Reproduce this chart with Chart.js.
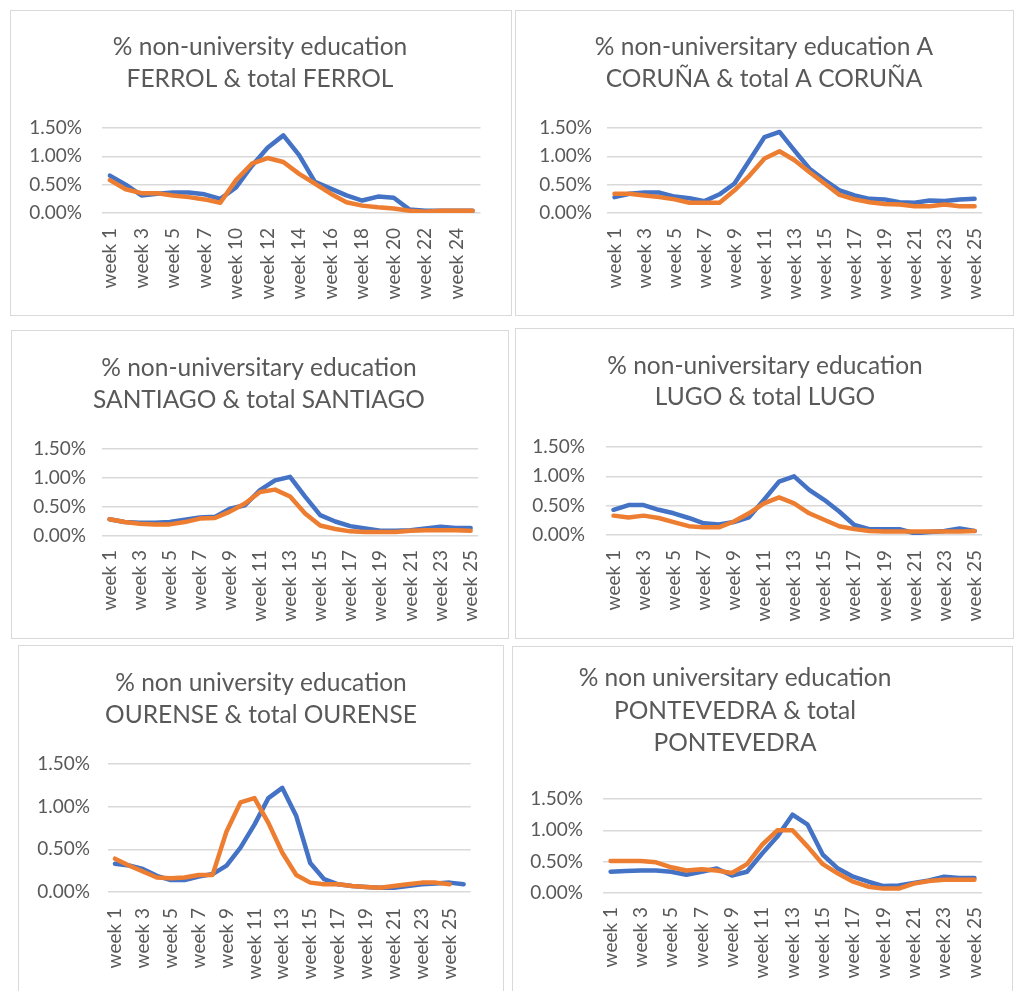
<!DOCTYPE html>
<html><head><meta charset="utf-8">
<script src="https://cdn.jsdelivr.net/npm/chart.js@4"></script>
<style>
html,body{margin:0;padding:0;background:#fff;width:1014px;height:991px;overflow:hidden;position:relative}
.box{position:absolute;border:1px solid #d9d9d9;box-sizing:border-box;background:#fff}
canvas{position:absolute}
</style></head><body>
<script>
// ---------- DATA ----------
const weeksFerrol = ["week 1","week 2","week 3","week 4","week 5","week 6","week 7","week 8","week 10","week 11","week 12","week 13","week 14","week 15","week 16","week 17","week 18","week 19","week 20","week 21","week 22","week 23","week 24","week 25"];
const weeks25 = ["week 1","week 2","week 3","week 4","week 5","week 6","week 7","week 8","week 9","week 10","week 11","week 12","week 13","week 14","week 15","week 16","week 17","week 18","week 19","week 20","week 21","week 22","week 23","week 24","week 25"];
const weeks26 = ["week 1","week 2","week 3","week 4","week 5","week 6","week 7","week 8","week 9","week 10","week 11","week 12","week 13","week 14","week 15","week 16","week 17","week 18","week 19","week 20","week 21","week 22","week 23","week 24","week 25","week 26"];
const yTicks = [0, 0.5, 1.0, 1.5];

const ferrolNonUni = [0.66,0.50,0.31,0.34,0.36,0.36,0.33,0.25,0.45,0.83,1.15,1.37,1.02,0.55,0.43,0.31,0.22,0.29,0.27,0.06,0.04,0.04,0.04,0.04];
const ferrolTotal  = [0.58,0.42,0.35,0.35,0.31,0.28,0.24,0.18,0.58,0.87,0.97,0.90,0.69,0.52,0.34,0.19,0.13,0.10,0.08,0.04,0.02,0.04,0.04,0.04];

const corunaNonUni = [0.28,0.34,0.36,0.36,0.29,0.26,0.21,0.33,0.52,0.93,1.34,1.43,1.10,0.78,0.58,0.40,0.31,0.25,0.24,0.19,0.18,0.22,0.21,0.24,0.25];
const corunaTotal  = [0.34,0.34,0.31,0.28,0.24,0.18,0.18,0.18,0.40,0.66,0.96,1.09,0.93,0.72,0.52,0.32,0.24,0.19,0.16,0.15,0.12,0.12,0.15,0.12,0.12];

const santiagoNonUni = [0.29,0.24,0.23,0.23,0.24,0.28,0.32,0.33,0.47,0.53,0.79,0.96,1.02,0.68,0.36,0.25,0.17,0.13,0.09,0.09,0.10,0.13,0.16,0.14,0.14];
const santiagoTotal  = [0.29,0.24,0.21,0.20,0.20,0.24,0.30,0.31,0.42,0.56,0.76,0.80,0.68,0.39,0.18,0.12,0.08,0.07,0.07,0.07,0.09,0.10,0.10,0.10,0.09];

const lugoNonUni = [0.43,0.51,0.51,0.43,0.37,0.29,0.20,0.18,0.22,0.30,0.60,0.91,1.00,0.77,0.60,0.40,0.17,0.10,0.10,0.10,0.03,0.05,0.07,0.11,0.07];
const lugoTotal  = [0.33,0.30,0.33,0.29,0.22,0.15,0.13,0.13,0.23,0.37,0.54,0.64,0.54,0.37,0.26,0.15,0.10,0.07,0.06,0.06,0.06,0.06,0.06,0.06,0.07];

const ourenseNonUni = [0.33,0.31,0.27,0.19,0.14,0.14,0.18,0.21,0.31,0.52,0.79,1.10,1.22,0.89,0.34,0.15,0.09,0.07,0.06,0.05,0.05,0.07,0.09,0.10,0.11,0.09];
const ourenseTotal  = [0.39,0.31,0.24,0.17,0.16,0.17,0.20,0.20,0.71,1.05,1.10,0.81,0.46,0.20,0.11,0.09,0.09,0.07,0.06,0.05,0.07,0.09,0.11,0.11,0.09,null];

const pontevedraNonUni = [0.34,0.35,0.36,0.36,0.34,0.29,0.34,0.39,0.28,0.34,0.63,0.90,1.25,1.09,0.61,0.39,0.26,0.18,0.11,0.12,0.16,0.20,0.26,0.24,0.24];
const pontevedraTotal  = [0.51,0.51,0.51,0.49,0.41,0.36,0.38,0.36,0.32,0.46,0.77,1.00,1.00,0.74,0.46,0.31,0.18,0.10,0.07,0.07,0.15,0.19,0.21,0.21,0.21];

// ---------- PANELS (layout) ----------
const panels = [
  {box:[10,10,502,306], cv:[10,10,501,305], title:["% non-university education","FERROL & total FERROL"], labels:weeksFerrol, a:ferrolNonUni, b:ferrolTotal,
   padL:28,padR:29,yW:64,yPad:20,xH:102,xPad:15,lh:32,tTop:21,tBot:33},
  {box:[515,10,499,306], cv:[515,10,498,305], title:["% non-universitary education A","CORUÑA & total A CORUÑA"], labels:weeks25, a:corunaNonUni, b:corunaTotal,
   padL:30,padR:30,yW:62,yPad:15,xH:102,xPad:15,lh:32,tTop:21,tBot:33},
  {box:[11,330,498,309], cv:[11,330,497,308], title:["% non-universitary education","SANTIAGO & total SANTIAGO"], labels:weeks25, a:santiagoNonUni, b:santiagoTotal,
   padL:27,padR:28,yW:64,yPad:16,xH:102,xPad:14,lh:32,tTop:22,tBot:33},
  {box:[515,328,499,311], cv:[515,328,498,310], title:["% non-universitary education","LUGO & total LUGO"], labels:weeks25, a:lugoNonUni, b:lugoTotal,
   padL:29,padR:27,yW:62,yPad:21,xH:103,xPad:15,lh:31,tTop:23,tBot:34},
  {box:[18,645,486,360], cv:[18,645,485,346], title:["% non university education","OURENSE & total OURENSE"], labels:weeks26, a:ourenseNonUni, b:ourenseTotal,
   padL:31,padR:30,yW:59,yPad:18,xH:99,xPad:16,lh:32,tTop:22,tBot:33},
  {box:[512,646,501,360], cv:[480,646,532,345], title:["% non universitary education","PONTEVEDRA & total","PONTEVEDRA"], labels:weeks25, a:pontevedraNonUni, b:pontevedraTotal,
   padL:8,padR:30,yW:115,yPad:20,xH:98,xPad:14,lh:32.5,tTop:16,tBot:39.5}
];

const FONT = 'Lato';
const TITLE_SIZE = 24.5, TICK_SIZE = 19;
const GRAY = '#595959';

panels.forEach(p => {
  const d = document.createElement('div');
  d.className = 'box';
  d.style.left = p.box[0]+'px'; d.style.top = p.box[1]+'px';
  d.style.width = p.box[2]+'px'; d.style.height = p.box[3]+'px';
  document.body.appendChild(d);
});
panels.forEach(p => {
  const c = document.createElement('canvas');
  c.width = p.cv[2]; c.height = p.cv[3];
  c.style.left = p.cv[0]+'px'; c.style.top = p.cv[1]+'px';
  c.style.width = p.cv[2]+'px'; c.style.height = p.cv[3]+'px';
  document.body.appendChild(c);
  const line = {pointRadius:0, borderWidth:4.5, tension:0, fill:false, borderCapStyle:'round', borderJoinStyle:'round', spanGaps:false};
  new Chart(c, {
    type:'line',
    data:{labels:p.labels, datasets:[
      Object.assign({label:'non-university', data:p.a, borderColor:'#4472C4', backgroundColor:'#4472C4', order:1}, line),
      Object.assign({label:'total', data:p.b, borderColor:'#ED7D31', backgroundColor:'#ED7D31', order:0}, line)
    ]},
    options:{
      responsive:false, animation:false, events:[],
      layout:{padding:{left:p.padL,right:p.padR,top:0,bottom:0}},
      plugins:{
        legend:{display:false}, tooltip:{enabled:false},
        title:{display:true, text:p.title, color:GRAY,
          font:{family:FONT, size:TITLE_SIZE, weight:'normal', lineHeight:p.lh+'px'},
          padding:{top:p.tTop, bottom:p.tBot}}
      },
      scales:{
        x:{offset:true, grid:{display:false, drawTicks:false}, border:{display:false},
          ticks:{autoSkip:false, maxRotation:90, minRotation:90, padding:p.xPad, color:GRAY,
            font:{family:FONT, size:TICK_SIZE},
            callback:function(v,i){ return i%2===0 ? this.getLabelForValue(v) : ''; }},
          afterFit:s=>{ s.height = p.xH; }},
        y:{min:yTicks[0], max:yTicks[yTicks.length-1],
          grid:{color:'#d9d9d9', lineWidth:1.5, drawTicks:false}, border:{display:false},
          afterBuildTicks:s=>{ s.ticks = yTicks.map(v=>({value:v})); },
          ticks:{padding:p.yPad, color:GRAY, font:{family:FONT, size:TICK_SIZE},
            callback:v=>v.toFixed(2)+'%'},
          afterFit:s=>{ s.width = p.yW; s._computeLabelArea = () => undefined; }}
      }
    }
  });
});
</script>
</body></html>
